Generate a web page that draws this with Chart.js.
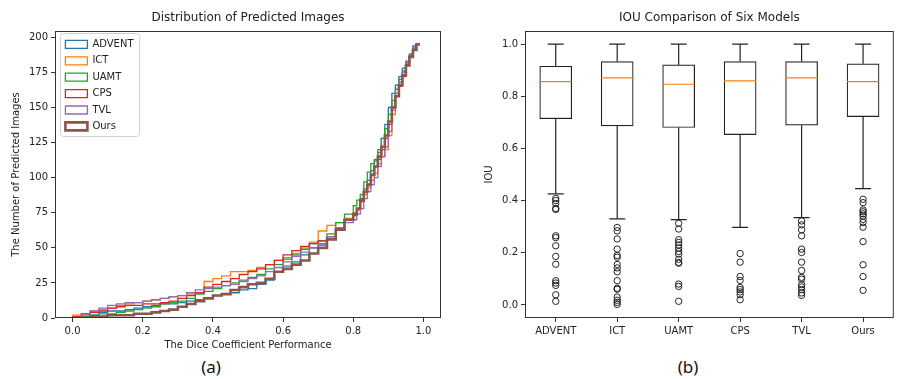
<!DOCTYPE html>
<html>
<head>
<meta charset="utf-8">
<script src="https://cdn.jsdelivr.net/npm/chart.js@4.4.0/dist/chart.umd.min.js"></script>
<style>
body{margin:0;width:899px;height:379px;overflow:hidden;background:#fff;position:relative;}
#wa{position:absolute;left:0;top:0;width:450px;height:355px;}
#wb{position:absolute;left:450px;top:0;width:461px;height:355px;}
.cap{position:absolute;top:355px;font:17px "Noto Sans",sans-serif;color:#111;transform:translateX(-50%);}
</style>
</head>
<body>
<div id="wa"><canvas id="dist"></canvas></div>
<div id="wb"><canvas id="iou"></canvas></div>
<div class="cap" style="left:211px">(a)</div>
<div class="cap" style="left:688px">(b)</div>
<script>
var models = ['ADVENT', 'ICT', 'UAMT', 'CPS', 'TVL', 'Ours'];
var colors = ['#1f77b4', '#ff7f0e', '#2ca02c', '#d62728', '#9467bd', '#8c564b'];

// histogram bin edges (dice), finer above 0.8
var binEdges = [0, 0.025, 0.05, 0.075, 0.1, 0.125, 0.15, 0.175, 0.2, 0.225, 0.25, 0.275, 0.3, 0.325, 0.35, 0.375,
  0.4, 0.425, 0.45, 0.475, 0.5, 0.525, 0.55, 0.575, 0.6, 0.625, 0.65, 0.675, 0.7, 0.725, 0.75, 0.775, 0.8,
  0.81, 0.82, 0.83, 0.84, 0.85, 0.86, 0.87, 0.88, 0.89, 0.9, 0.91, 0.92, 0.93, 0.94, 0.95, 0.96, 0.97, 0.98, 0.99];

// cumulative counts per bin
var adventCum = [0, 1, 2, 4, 5, 5, 6, 7, 8, 9, 10, 10, 11, 12, 13, 14, 16, 17, 18, 20, 21, 24, 27, 33, 37, 40, 45, 50, 52, 58, 64, 70,
  74, 78, 85, 92, 98, 105, 112, 118, 128, 138, 150, 160, 166, 172, 178, 183, 188, 193, 195];
var ictCum = [2, 3, 5, 6, 7, 9, 10, 11, 12, 13, 14, 15, 16, 17, 18, 26, 28, 30, 33, 33, 34, 36, 38, 41, 43, 46, 50, 54, 62, 66, 68, 71,
  75, 78, 83, 88, 93, 98, 103, 110, 115, 120, 130, 145, 160, 168, 175, 181, 187, 192, 195];
var uamtCum = [0, 1, 2, 3, 3, 4, 5, 6, 7, 8, 10, 11, 12, 14, 17, 19, 21, 23, 25, 27, 29, 31, 35, 38, 42, 45, 49, 53, 55, 60, 68, 74,
  80, 84, 88, 97, 104, 110, 113, 120, 128, 135, 145, 155, 163, 170, 176, 182, 187, 192, 195];
var cpsCum = [1, 3, 4, 5, 7, 8, 9, 9, 10, 10, 11, 12, 14, 16, 18, 22, 24, 26, 28, 31, 33, 35, 38, 41, 45, 48, 51, 53, 55, 58, 64, 70,
  73, 77, 83, 90, 95, 102, 108, 113, 120, 128, 138, 150, 158, 165, 172, 180, 186, 191, 195];
var tvlCum = [0, 2, 5, 7, 9, 10, 11, 11, 12, 13, 14, 15, 16, 18, 20, 21, 22, 23, 24, 26, 28, 30, 33, 36, 40, 44, 47, 50, 53, 58, 64, 68,
  70, 74, 78, 85, 90, 95, 100, 108, 115, 122, 133, 148, 160, 168, 175, 182, 188, 194, 195];
var oursCum = [0, 0, 1, 1, 2, 2, 2, 3, 3, 4, 5, 6, 8, 10, 12, 14, 16, 17, 20, 22, 24, 25, 28, 33, 35, 38, 41, 46, 50, 56, 63, 70,
  74, 78, 84, 90, 95, 102, 108, 115, 122, 130, 140, 150, 158, 166, 173, 180, 186, 191, 195];
var cumCounts = [adventCum, ictCum, uamtCum, cpsCum, tvlCum, oursCum];

// IOU box stats
var q1 = [0.714, 0.686, 0.680, 0.653, 0.689, 0.722];
var medians = [0.856, 0.870, 0.846, 0.859, 0.870, 0.856];
var q3 = [0.915, 0.933, 0.920, 0.933, 0.933, 0.924];
var whiskerLow = [0.426, 0.330, 0.327, 0.297, 0.335, 0.446];
var whiskerHigh = [1.0, 1.0, 1.0, 1.0, 1.0, 1.0];
var adventOut = [0.408, 0.400, 0.389, 0.370, 0.366, 0.265, 0.258, 0.227, 0.186, 0.156, 0.093, 0.084, 0.075, 0.039, 0.014];
var ictOut = [0.297, 0.284, 0.253, 0.214, 0.190, 0.183, 0.155, 0.142, 0.127, 0.093, 0.064, 0.060, 0.030, 0.018, 0.010, 0.002];
var uamtOut = [0.313, 0.291, 0.250, 0.240, 0.230, 0.218, 0.205, 0.195, 0.175, 0.163, 0.160, 0.080, 0.071, 0.014];
var cpsOut = [0.197, 0.164, 0.109, 0.094, 0.067, 0.059, 0.050, 0.039, 0.020];
var tvlOut = [0.322, 0.307, 0.288, 0.265, 0.214, 0.201, 0.164, 0.132, 0.106, 0.099, 0.078, 0.069, 0.059, 0.046, 0.037];
var oursOut = [0.405, 0.392, 0.364, 0.357, 0.349, 0.341, 0.328, 0.316, 0.298, 0.243, 0.154, 0.109, 0.056];
var outliers = [adventOut, ictOut, uamtOut, cpsOut, tvlOut, oursOut];

Chart.defaults.font.family = '"DejaVu Sans", sans-serif';
Chart.defaults.font.size = 10;
Chart.defaults.color = '#222';
Chart.defaults.animation = false;
Chart.defaults.events = [];
Chart.defaults.plugins.tooltip.enabled = false;

// axes box like matplotlib
var frame = {
  id: 'frame',
  afterDraw: function(chart) {
    var a = chart.chartArea, c = chart.ctx;
    c.save();
    c.strokeStyle = '#333';
    c.lineWidth = 1;
    c.strokeRect(a.left + 0.5, a.top + 0.5, a.right - a.left - 1, a.bottom - a.top - 1);
    c.restore();
  }
};

// legend in chartArea gets top reset to 0, put it back inside the axes
var legendInside = {
  id: 'legendInside',
  afterLayout: function(chart) {
    var lg = chart.legend, a = chart.chartArea;
    if (!lg) return;
    lg.left = a.left + 4;
    lg.top = a.top + 2;
    lg.bottom = a.bottom;
  }
};

var legendFrame = {
  id: 'legendFrame',
  beforeDraw: function(chart) {
    var hb = chart.legend && chart.legend.legendHitBoxes;
    if (!hb || !hb.length) return;
    var l = 1e9, t = 1e9, r = -1e9, b = -1e9;
    hb.forEach(function(h) {
      l = Math.min(l, h.left); t = Math.min(t, h.top);
      r = Math.max(r, h.left + h.width); b = Math.max(b, h.top + h.height);
    });
    var c = chart.ctx;
    c.save();
    c.beginPath();
    if (c.roundRect) c.roundRect(Math.round(l) - 4.5, Math.round(t) - 5.5, r - l + 11, b - t + 11, 3);
    else c.rect(Math.round(l) - 4.5, Math.round(t) - 5.5, r - l + 11, b - t + 11);
    c.fillStyle = 'rgba(255,255,255,0.8)';
    c.fill();
    c.strokeStyle = '#d0d0d0';
    c.lineWidth = 1;
    c.stroke();
    c.restore();
  }
};

function stepPoints(counts) {
  var pts = [{x: binEdges[0], y: 0}];
  for (var i = 0; i < counts.length; i++) pts.push({x: binEdges[i], y: counts[i]});
  pts.push({x: binEdges[counts.length], y: counts[counts.length - 1]});
  return pts;
}

var tickGrid = {drawOnChartArea: false, tickLength: 4, color: '#333'};

new Chart(document.getElementById('dist'), {
  type: 'line',
  data: {
    datasets: models.map(function(m, i) {
      return {
        label: m,
        data: stepPoints(cumCounts[i]),
        stepped: true,
        borderColor: colors[i],
        backgroundColor: 'rgba(0,0,0,0)',
        borderWidth: m === 'Ours' ? 2.6 : 1.3,
        pointRadius: 0,
        fill: false,
        order: 5 - i
      };
    })
  },
  options: {
    responsive: true,
    maintainAspectRatio: false,
    layout: {padding: {left: 0, right: 9, top: 0, bottom: 0}},
    plugins: {
      title: {display: true, text: 'Distribution of Predicted Images', fullSize: false,
        font: {size: 12, weight: 'normal'}, color: '#222', padding: {top: 10.6, bottom: 6}},
      legend: {
        position: 'chartArea', align: 'start',
        labels: {boxWidth: 22, boxHeight: 8, padding: 6.4, font: {size: 10}, color: '#222',
          sort: function(a, b) { return a.datasetIndex - b.datasetIndex; }}
      }
    },
    scales: {
      x: {
        type: 'linear', min: -0.05, max: 1.05,
        ticks: {stepSize: 0.2, padding: 3, maxRotation: 0, includeBounds: false,
          callback: function(v) { return v.toFixed(1); }},
        grid: tickGrid, border: {display: false},
        title: {display: true, text: 'The Dice Coefficient Performance', padding: 4, font: {size: 10}},
        afterFit: function(s) { s.height = 37; }
      },
      y: {
        min: 0, max: 204.5,
        ticks: {stepSize: 25, padding: 3, includeBounds: false},
        grid: tickGrid, border: {display: false},
        title: {display: true, text: 'The Number of Predicted Images', padding: 10, font: {size: 10}},
        afterFit: function(s) { s.width = 55; }
      }
    }
  },
  plugins: [legendInside, legendFrame, frame]
});

// box plot pieces
var boxData = [], medData = [], capData = [], whiskData = [], flierData = [];
models.forEach(function(m, i) {
  var x = i + 1;
  boxData.push({x: x, y: [q1[i], q3[i]]});
  medData.push({x: x, y: medians[i]});
  capData.push({x: x, y: whiskerHigh[i]}, {x: x, y: whiskerLow[i]});
  whiskData.push({x: x, y: q3[i]}, {x: x, y: whiskerHigh[i]}, {x: x, y: null},
    {x: x, y: q1[i]}, {x: x, y: whiskerLow[i]}, {x: x, y: null});
  outliers[i].forEach(function(v) { flierData.push({x: x, y: v}); });
});

new Chart(document.getElementById('iou'), {
  type: 'bar',
  data: {
    datasets: [
      {type: 'scatter', data: medData, pointStyle: 'line', pointRadius: 16,
        pointBorderColor: '#ff7f0e', borderColor: '#ff7f0e', pointBorderWidth: 1.2, order: 0},
      {type: 'scatter', data: capData, pointStyle: 'line', pointRadius: 8,
        pointBorderColor: '#222', borderColor: '#222', pointBorderWidth: 1.2, order: 1},
      {type: 'scatter', data: flierData, pointStyle: 'circle', pointRadius: 3.2,
        pointBorderColor: '#222', pointBackgroundColor: 'rgba(0,0,0,0)', pointBorderWidth: 1, order: 2},
      {type: 'line', data: whiskData, borderColor: '#222', borderWidth: 1.2, pointRadius: 0,
        spanGaps: false, fill: false, order: 3},
      {type: 'bar', data: boxData, backgroundColor: '#fff', borderColor: '#222', borderWidth: 1.2,
        borderSkipped: false, barThickness: 32, order: 4}
    ]
  },
  options: {
    responsive: true,
    maintainAspectRatio: false,
    layout: {padding: {left: 0, right: 0, top: 0, bottom: 0}},
    plugins: {
      title: {display: true, text: 'IOU Comparison of Six Models', fullSize: false,
        font: {size: 12, weight: 'normal'}, color: '#222', padding: {top: 10.6, bottom: 6}},
      legend: {display: false}
    },
    scales: {
      x: {
        type: 'linear', min: 0.5, max: 6.5, offset: false,
        afterBuildTicks: function(s) { s.ticks = models.map(function(m, i) { return {value: i + 1}; }); },
        ticks: {padding: 3, maxRotation: 0, autoSkip: false,
          callback: function(v) { return models[Math.round(v) - 1]; }},
        grid: {drawOnChartArea: false, tickLength: 4, color: '#333', offset: false}, border: {display: false},
        afterFit: function(s) { s.height = 37; }
      },
      y: {
        min: -0.05, max: 1.05,
        ticks: {stepSize: 0.2, padding: 3, includeBounds: false,
          callback: function(v) { return v.toFixed(1); }},
        grid: tickGrid, border: {display: false},
        title: {display: true, text: 'IOU', padding: 33, font: {size: 10}},
        afterFit: function(s) { s.width = 75; }
      }
    }
  },
  plugins: [frame]
});
</script>
</body>
</html>
